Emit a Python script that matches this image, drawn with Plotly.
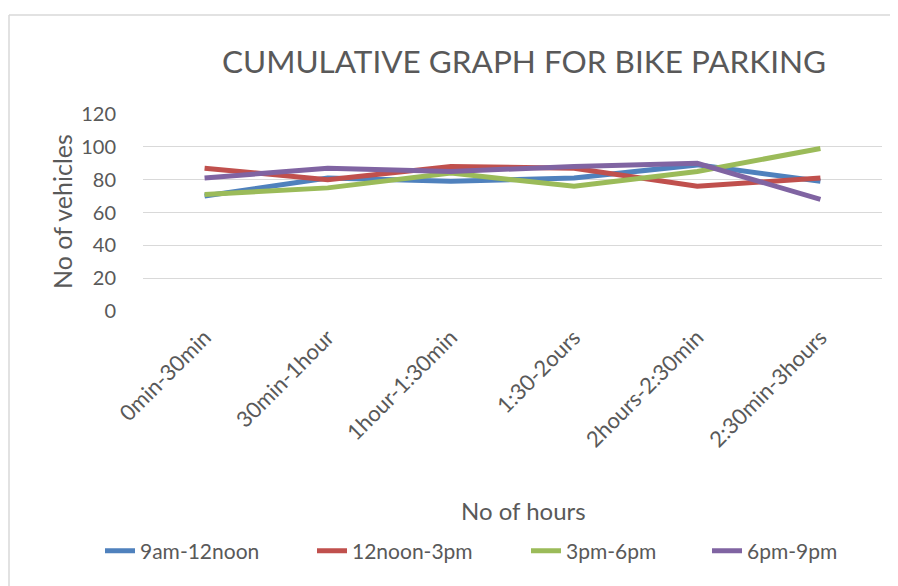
import plotly.graph_objects as go

categories = ["0min-30min", "30min-1hour", "1hour-1:30min", "1:30-2ours", "2hours-2:30min", "2:30min-3hours"]
s_9am_12noon = [70, 81, 79, 81, 89, 79]
s_12noon_3pm = [87, 80, 88, 87, 76, 81]
s_3pm_6pm = [71, 75, 84, 76, 85, 99]
s_6pm_9pm = [81, 87, 85, 88, 90, 68]
series_names = ["9am-12noon", "12noon-3pm", "3pm-6pm", "6pm-9pm"]
y_ticks = [0, 20, 40, 60, 80, 100, 120]

colors = ["#4F81BD", "#C0504D", "#9BBB59", "#8064A2"]
FONT = "Lato, Open Sans, sans-serif"
GRAY = "#595959"

OFF = 8  # page body margin
W, H = 898, 586
# target page pixel positions of plot area
PL, PR, PT, PB = 143, 882, 114, 311
L, T = PL - OFF, PT - OFF
R = W - (PR - OFF)
B = H - (PB - OFF)
pw, ph = W - L - R, H - T - B

def px_x(p):
    return (p - OFF - L) / pw

def px_y(p):
    return (H - B - (p - OFF)) / ph

# page x where each legend entry's line sample should begin
legend_starts = [100, 312, 526, 707]
legend_ids = ["legend", "legend2", "legend3", "legend4"]

fig = go.Figure()
for name, vals, c, lid in zip(series_names, [s_9am_12noon, s_12noon_3pm, s_3pm_6pm, s_6pm_9pm],
                              colors, legend_ids):
    fig.add_trace(go.Scatter(x=categories, y=vals, mode="lines", name=name, legend=lid,
                             line=dict(color=c, width=5)))

legend_layout = {}
for lid, sx in zip(legend_ids, legend_starts):
    legend_layout[lid] = dict(orientation="h", xref="container", yref="container",
                              x=(sx - OFF) / W, xanchor="left",
                              y=1 - (551 - OFF) / H, yanchor="middle",
                              font=dict(size=21, color=GRAY, family=FONT),
                              bgcolor="rgba(0,0,0,0)", borderwidth=0)

fig.update_layout(
    width=W, height=H,
    margin=dict(l=L, r=R, t=T, b=B),
    paper_bgcolor="white", plot_bgcolor="white",
    font=dict(family=FONT, color=GRAY),
    title=dict(text="CUMULATIVE GRAPH FOR BIKE PARKING", x=px_x(524), xanchor="center",
               xref="paper", y=1 - (62 - OFF) / H, yanchor="middle",
               font=dict(size=31.5, color=GRAY, family=FONT)),
    showlegend=True,
    **legend_layout,
    xaxis=dict(type="category", range=[-0.5, 5.5], tickangle=-45, showgrid=False,
               showline=False, zeroline=False, ticks="outside", ticklen=4,
               tickcolor="rgba(0,0,0,0)", tickfont=dict(size=22, color=GRAY)),
    yaxis=dict(range=[0, 120], tickvals=y_ticks, showgrid=True, gridcolor="#D9D9D9",
               gridwidth=1, zeroline=False, showline=False, ticks="outside", ticklen=22,
               tickcolor="rgba(0,0,0,0)", tickfont=dict(size=20, color=GRAY)),
    annotations=[
        dict(text="No of hours", xref="paper", yref="paper", x=px_x(523), y=px_y(510),
             xanchor="center", yanchor="middle", showarrow=False,
             font=dict(size=24, color=GRAY, family=FONT)),
        dict(text="No of vehicles", xref="paper", yref="paper", x=px_x(62), y=px_y(212),
             xanchor="center", yanchor="middle", showarrow=False, textangle=-90,
             font=dict(size=25, color=GRAY, family=FONT)),
    ],
    shapes=[
        dict(type="line", xref="paper", yref="paper", x0=px_x(9), x1=px_x(W + 40),
             y0=px_y(15), y1=px_y(15), line=dict(color="#D9D9D9", width=1.5)),
        dict(type="line", xref="paper", yref="paper", x0=px_x(9), x1=px_x(9),
             y0=px_y(15), y1=px_y(H + 40), line=dict(color="#D9D9D9", width=1.5)),
    ],
)

fig.write_html("out.html")
